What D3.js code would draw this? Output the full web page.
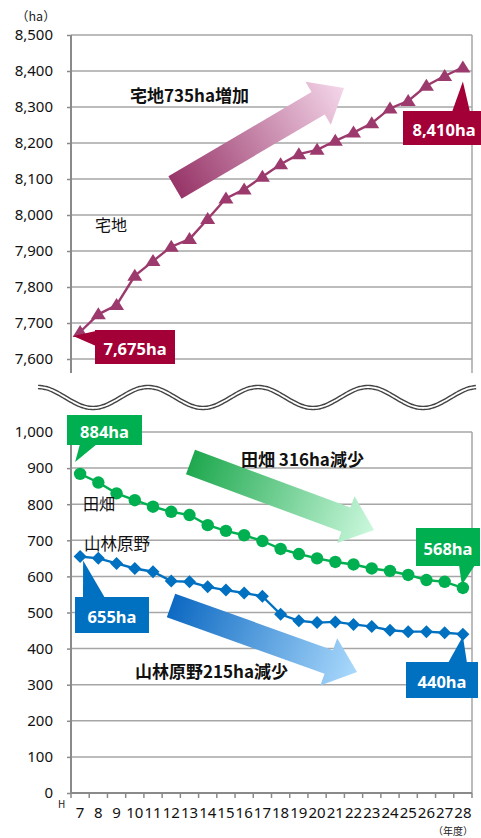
<!DOCTYPE html>
<html><head><meta charset="utf-8">
<script src="https://cdn.jsdelivr.net/npm/d3@7"></script>
<style>
body{margin:0;background:#fff}
svg{display:block}
text{font-family:"Noto Sans CJK JP","Noto Sans",sans-serif}
</style>
</head><body>
<svg id="chart" width="481" height="838"></svg>
<script>
// 年度 (平成)
const years = ["7","8","9","10","11","12","13","14","15","16","17","18","19","20","21","22","23","24","25","26","27","28"];
// 宅地 (ha)
const residential = [7675,7724,7750,7831,7872,7912,7933,7989,8046,8071,8106,8141,8169,8181,8206,8229,8255,8296,8317,8359,8386,8410];
// 田畑 (ha)
const farmland = [884,860,830,811,793,779,770,742,726,714,698,676,662,650,640,633,622,615,604,590,585,568];
// 山林原野 (ha)
const forest = [655,650,636,622,613,587,585,571,562,554,545,495,477,472,474,467,461,451,447,447,444,440];
// axis ticks
const topTicks = [7600,7700,7800,7900,8000,8100,8200,8300,8400,8500];
const bottomTicks = [0,100,200,300,400,500,600,700,800,900,1000];

const svg = d3.select("#chart");
const fmt = d3.format(",");
const gridColor = "#a6a6a6", axisColor = "#8a8a8a";
const cMagBox = "#a20036", cGreen = "#00b050", cBlue = "#0070c0";

const left = 71, right = 472;
const x = d3.scaleBand().domain(years).range([left, right]);
const cx = d => x(d) + x.bandwidth() / 2;
const yTop = d3.scaleLinear().domain([7600, 8500]).range([359, 35]);
const yBot = d3.scaleLinear().domain([0, 1000]).range([793, 432]);

// ---------- gradients for trend arrows ----------
const defs = svg.append("defs");
function grad(id, c0, c1, len) {
  const g = defs.append("linearGradient").attr("id", id)
    .attr("gradientUnits", "userSpaceOnUse")
    .attr("x1", 0).attr("y1", 0).attr("x2", len).attr("y2", 0);
  g.append("stop").attr("offset", "0%").attr("stop-color", c0);
  g.append("stop").attr("offset", "100%").attr("stop-color", c1);
}
function arrow(tail, tip, sw, hw, hl, id, c0, c1) {
  const dx = tip[0] - tail[0], dy = tip[1] - tail[1];
  const len = Math.hypot(dx, dy), ang = Math.atan2(dy, dx) * 180 / Math.PI;
  grad(id, c0, c1, len);
  const pts = [[0,-sw/2],[len-hl,-sw/2],[len-hl,-hw/2],[len,0],[len-hl,hw/2],[len-hl,sw/2],[0,sw/2]];
  svg.append("path")
    .attr("transform", `translate(${tail[0]},${tail[1]}) rotate(${ang})`)
    .attr("d", "M" + pts.map(p => p.join(",")).join("L") + "Z")
    .attr("fill", `url(#${id})`);
}

// ---------- grids & axes ----------
function panel(y, ticks, yTopPx, yBottomPx, withXAxis) {
  const g = svg.append("g");
  g.selectAll(".grid").data(ticks).join("line")
    .attr("x1", left).attr("x2", right)
    .attr("y1", d => y(d)).attr("y2", d => y(d))
    .attr("stroke", gridColor).attr("stroke-width", 1.5);
  // right border
  g.append("line").attr("x1", right).attr("x2", right)
    .attr("y1", yTopPx).attr("y2", yBottomPx)
    .attr("stroke", gridColor).attr("stroke-width", 1.5);
  const ax = g.append("g").attr("transform", `translate(${left},0)`)
    .call(d3.axisLeft(y).tickValues(ticks).tickFormat(fmt).tickSize(4).tickPadding(14));
  ax.select(".domain").remove();
  ax.selectAll(".tick line").attr("stroke", axisColor).attr("stroke-width", 1.5);
  ax.selectAll(".tick text").attr("font-size", 15).attr("fill", "#111")
    .style("font-family", "'Noto Sans','Noto Sans CJK JP',sans-serif");
  g.append("line").attr("x1", left).attr("x2", left)
    .attr("y1", yTopPx).attr("y2", yBottomPx)
    .attr("stroke", axisColor).attr("stroke-width", 2);
  if (withXAxis) {
    g.append("line").attr("x1", left).attr("x2", right)
      .attr("y1", yBottomPx).attr("y2", yBottomPx)
      .attr("stroke", axisColor).attr("stroke-width", 2);
    const bounds = years.map(d => x(d)).concat([right]);
    g.selectAll(".xt").data(bounds).join("line")
      .attr("x1", d => d).attr("x2", d => d)
      .attr("y1", yBottomPx).attr("y2", yBottomPx + 5)
      .attr("stroke", axisColor).attr("stroke-width", 1.5);
    const xa = g.append("g").attr("transform", `translate(0,${yBottomPx})`)
      .call(d3.axisBottom(x).tickSize(0).tickPadding(14));
    xa.select(".domain").remove();
    xa.selectAll(".tick text").attr("font-size", 15).attr("fill", "#111")
      .style("font-family", "'Noto Sans','Noto Sans CJK JP',sans-serif");
  }
}
panel(yTop, topTicks, yTop(8500), 373, false);
panel(yBot, bottomTicks, yBot(1000), yBot(0), true);

svg.append("text").attr("x", 16).attr("y", 21).attr("font-size", 12.5).attr("fill", "#222").text("（ha）");
svg.append("text").attr("x", 58).attr("y", 808).attr("font-size", 10).attr("fill", "#222").text("H");
svg.append("text").attr("x", 433).attr("y", 835).attr("font-size", 10).attr("fill", "#222").text("（年度）");

// ---------- axis break (double wavy line) ----------
const wave = d3.range(38, 478, 2).map(px => [px, 397.5 - 10.5 * Math.cos(2 * Math.PI * (px - 38) / 110)]);
const waveLine = d3.line().curve(d3.curveBasis);
svg.append("path").attr("d", waveLine(wave)).attr("fill", "none").attr("stroke", "#444").attr("stroke-width", 4.6);
svg.append("path").attr("d", waveLine(wave)).attr("fill", "none").attr("stroke", "#fff").attr("stroke-width", 1.8);

// ---------- trend arrows ----------
arrow([175, 187.5], [344, 88], 26, 50, 30, "gMag", "#973568", "#f4d6e9");
arrow([190.5, 462], [374, 530], 26, 50, 30, "gGreen", "#1ea84e", "#cbf8dd");
arrow([171, 605.5], [357, 672], 25, 50, 30, "gBlue", "#0d69c2", "#aad9fc");

// ---------- series ----------
function series(vals, y, color, marker) {
  const pts = vals.map((v, i) => [cx(years[i]), y(v)]);
  svg.append("path").attr("d", d3.line()(pts)).attr("fill", "none")
    .attr("stroke", color).attr("stroke-width", 2.4);
  const g = svg.append("g");
  pts.forEach(p => {
    if (marker === "tri") {
      g.append("path").attr("d", `M${p[0]},${p[1]-7}L${p[0]+7.5},${p[1]+5}L${p[0]-7.5},${p[1]+5}Z`).attr("fill", color);
    } else if (marker === "circle") {
      g.append("circle").attr("cx", p[0]).attr("cy", p[1]).attr("r", 6.2).attr("fill", color);
    } else {
      g.append("path").attr("d", `M${p[0]},${p[1]-6.5}L${p[0]+6.5},${p[1]}L${p[0]},${p[1]+6.5}L${p[0]-6.5},${p[1]}Z`).attr("fill", color);
    }
  });
}
series(residential, yTop, "#9d3a6d", "tri");
series(farmland, yBot, cGreen, "circle");
series(forest, yBot, cBlue, "diamond");

// ---------- series labels ----------
const lab = (tx, ty, t, size, bold) => svg.append("text").attr("x", tx).attr("y", ty)
  .attr("font-size", size).attr("font-weight", bold ? 700 : 400).attr("fill", "#111")
  .attr("dominant-baseline", "central").text(t);
lab(95, 224, "宅地", 16, false);
lab(83, 503, "田畑", 16, false);
lab(84, 543, "山林原野", 16.5, false);
const n = residential.length - 1;
lab(130, 94, `宅地${residential[n] - residential[0]}ha増加`, 17, true);
lab(241, 458, `田畑 ${farmland[0] - farmland[n]}ha減少`, 17, true);
lab(135, 670, `山林原野${forest[0] - forest[n]}ha減少`, 17, true);

// ---------- value callouts ----------
function callout(box, base, tipPt, fill, value) {
  const [bx, by, bw, bh] = box;
  svg.append("path")
    .attr("d", `M${base[0][0]},${base[0][1]}L${tipPt[0]},${tipPt[1]}L${base[1][0]},${base[1][1]}Z`)
    .attr("fill", fill);
  svg.append("rect").attr("x", bx).attr("y", by).attr("width", bw).attr("height", bh).attr("fill", fill);
  svg.append("text").attr("x", bx + bw / 2).attr("y", by + bh / 2 + 1)
    .attr("text-anchor", "middle").attr("dominant-baseline", "central")
    .attr("font-size", 16.5).attr("font-weight", 700).attr("fill", "#fff")
    .style("font-family", "'Noto Sans','Noto Sans CJK JP',sans-serif")
    .text(fmt(value) + "ha");
}
const first = years[0], last = years[n];
callout([403, 111, 82, 34], [[452, 112], [470, 112]], [cx(last), yTop(residential[n]) + 14], cMagBox, residential[n]);
callout([95, 330, 80, 34], [[96, 331], [96, 346]], [cx(first) - 7, yTop(residential[0]) + 4], cMagBox, residential[0]);
callout([67, 415, 75, 30], [[80, 444], [97, 444]], [cx(first) - 5, yBot(farmland[0]) - 12], cGreen, farmland[0]);
callout([416, 528, 64, 38], [[459, 565], [475, 565]], [cx(last) - 1, yBot(farmland[n]) - 3], cGreen, farmland[n]);
callout([75, 597, 74, 36], [[83, 598], [105, 598]], [cx(first) + 3, yBot(forest[0]) + 4], cBlue, forest[0]);
callout([406, 662, 72, 36], [[448, 663], [467, 663]], [cx(last), yBot(forest[n]) + 2], cBlue, forest[n]);
</script>
</body></html>
